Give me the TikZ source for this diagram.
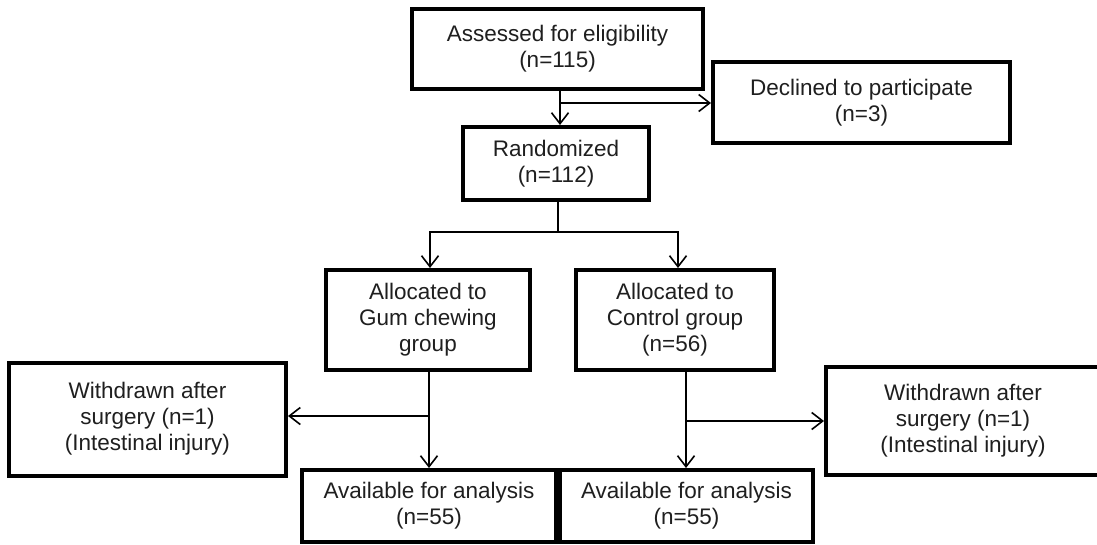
\documentclass[tikz,border=0pt]{standalone}
\usepackage{fontspec}
\setmainfont{Liberation Sans}
\usetikzlibrary{arrows.meta}
\newcommand{\shiftedtext}[2]{\raisebox{#1}{\begin{tabular}{@{}c@{}}#2\end{tabular}}}
\begin{document}
\begin{tikzpicture}[x=1pt,y=-1pt,
  box/.style={draw=black,line width=4pt,fill=white,align=center,inner sep=0pt,
    font=\fontsize{22.5}{26}\selectfont,text=black!88},
  conn/.style={draw=black,line width=1.6pt},
  arr/.style={conn,-{Straight Barb[length=11pt,width=17pt,line width=1.6pt]}}]
\useasboundingbox (0,0) rectangle (1097,544);
\begin{scope}
\clip (0,0) rectangle (1097,544);
\node[box,minimum width=291pt,minimum height=80pt] (assess) at (557.5,49) {Assessed for eligibility\\(n=115)};
\node[box,minimum width=297pt,minimum height=81pt] (declined) at (861.5,102.5) {Declined to participate\\(n=3)};
\node[box,minimum width=186pt,minimum height=73pt] (rand) at (556,163.5) {Randomized\\(n=112)};
\node[box,minimum width=204pt,minimum height=100pt] (gum) at (428,320) {Allocated to\\Gum chewing\\group};
\node[box,minimum width=198pt,minimum height=100pt] (ctrl) at (675,320) {Allocated to\\Control group\\(n=56)};
\node[box,minimum width=277pt,minimum height=113pt] (wl) at (147.5,419) {\shiftedtext{4pt}{Withdrawn after\\surgery (n=1)\\(Intestinal injury)}};
\node[box,minimum width=274pt,minimum height=108pt] (wr) at (963,421) {Withdrawn after\\surgery (n=1)\\(Intestinal injury)};
\node[box,minimum width=254pt,minimum height=72pt] (avl) at (429,506) {\shiftedtext{-5pt}{Available for analysis\\(n=55)}};
\node[box,minimum width=253pt,minimum height=72pt] (avr) at (686.5,506) {\shiftedtext{-5pt}{Available for analysis\\(n=55)}};
\end{scope}
\coordinate (j1) at (560,103);
\coordinate (j2) at (558,232);
\coordinate (j3) at (429,416);
\coordinate (j4) at (686,421);
\draw[arr] (assess.south -| j1) -- (rand.north -| j1);
\draw[arr] (j1) -- (declined.west |- j1);
\draw[conn] (rand.south -| j2) -- (j2);
\draw[arr] (j2) -| ([xshift=2pt]gum.north);
\draw[arr] (j2) -| ([xshift=3pt]ctrl.north);
\draw[arr] (gum.south -| j3) -- (avl.north -| j3);
\draw[arr] (j3) -- (wl.east |- j3);
\draw[arr] (ctrl.south -| j4) -- (avr.north -| j4);
\draw[arr] (j4) -- (wr.west |- j4);
\end{tikzpicture}
\end{document}
